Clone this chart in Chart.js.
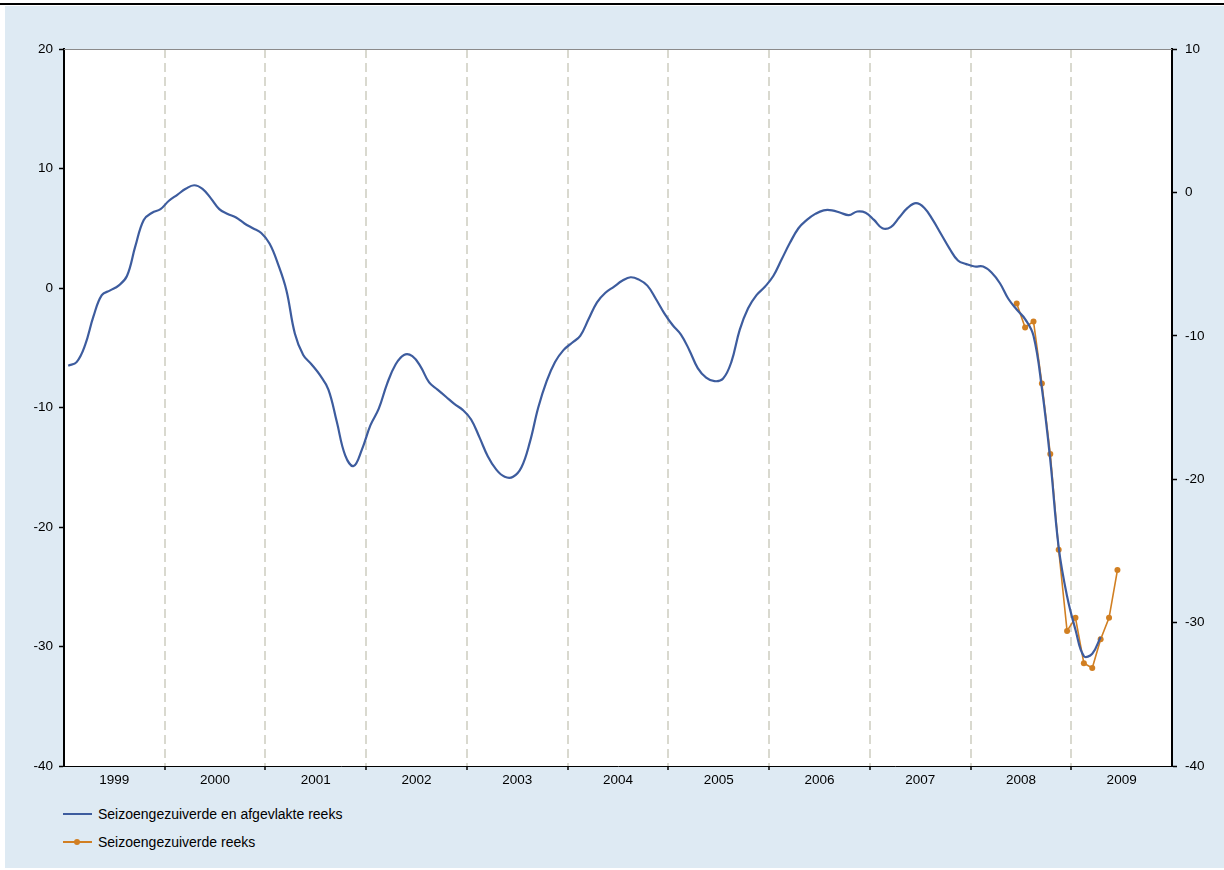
<!DOCTYPE html>
<html>
<head>
<meta charset="utf-8">
<script src="https://cdn.jsdelivr.net/npm/chart.js@4"></script>
<style>
  html, body { margin: 0; padding: 0; background: #ffffff; width: 1224px; height: 870px; overflow: hidden; }
  #topline { position: absolute; left: 0; top: 3px; width: 1224px; height: 2px; background: #000; }
  #bg { position: absolute; left: 5px; top: 6px; width: 1219px; height: 862px; background: #deeaf3; }
  #wrap { position: absolute; left: 0; top: 0; width: 1224px; height: 800px; }
  .leg { position: absolute; left: 63px; font-family: "Liberation Sans", Arial, sans-serif; font-size: 14px; color: #000; height: 16px; line-height: 16px; }
  .leg .mk { position: absolute; left: 0; top: 7px; width: 29px; height: 2px; }
  .leg .dot { position: absolute; left: 11px; top: -2px; width: 6px; height: 6px; border-radius: 50%; }
  .leg .tx { position: absolute; left: 35px; top: 0; white-space: nowrap; }
</style>
</head>
<body>
<div id="topline"></div>
<div id="bg"></div>
<div id="wrap"><canvas id="c" width="1224" height="800"></canvas></div>
<div class="leg" style="top:806px;"><span class="mk" style="background:#3d5c9e;"></span><span class="tx">Seizoengezuiverde en afgevlakte reeks</span></div>
<div class="leg" style="top:834px;"><span class="mk" style="background:#d17f22;"><span class="dot" style="background:#d17f22;"></span></span><span class="tx">Seizoengezuiverde reeks</span></div>
<script>
// Year labels (one per year, Jan 1999 .. Dec 2009)
const YEARS = ['1999','2000','2001','2002','2003','2004','2005','2006','2007','2008','2009'];

// Series names
const SERIES_SMOOTH = 'Seizoengezuiverde en afgevlakte reeks';
const SERIES_SA = 'Seizoengezuiverde reeks';

// Seasonally adjusted & smoothed series: monthly, starting Jan 1999 (month index 0)
const SMOOTH_START = 0;
const smoothValues = [
  -6.5,-6.2,-4.8,-2.4,-0.6,-0.2,0.2,1.0,3.5,5.7,6.3,6.6,
  7.3,7.8,8.3,8.6,8.3,7.5,6.6,6.2,5.9,5.4,5.0,4.6,
  3.7,2.0,-0.2,-3.8,-5.6,-6.4,-7.3,-8.5,-11.2,-14.0,-14.9,-13.5,
  -11.5,-10.1,-8.0,-6.4,-5.6,-5.7,-6.6,-7.9,-8.5,-9.1,-9.7,-10.2,
  -11.0,-12.5,-14.1,-15.2,-15.8,-15.8,-15.0,-12.9,-10.0,-7.8,-6.2,-5.2,
  -4.6,-4.0,-2.6,-1.2,-0.4,0.1,0.6,0.9,0.7,0.2,-0.9,-2.1,
  -3.1,-3.9,-5.2,-6.7,-7.5,-7.8,-7.6,-6.2,-3.5,-1.7,-0.6,0.1,
  1.0,2.4,3.8,5.0,5.7,6.2,6.5,6.5,6.3,6.1,6.4,6.3,
  5.7,5.0,5.1,5.9,6.7,7.1,6.7,5.7,4.5,3.3,2.3,2.0,
  1.8,1.8,1.3,0.4,-0.9,-1.8,-2.6,-4.0,-8.4,-14.4,-21.7,-25.8,
  -28.6,-30.8,-30.6,-29.2
];

// Seasonally adjusted series: monthly, starting June 2008 (month index 113)
const SA_START = 113;
const saValues = [-1.3,-3.3,-2.8,-8.0,-13.9,-21.9,-28.7,-27.6,-31.4,-31.8,-29.4,-27.6,-23.6];

// Axis tick values
const LEFT_TICKS = [-40,-30,-20,-10,0,10,20];
const RIGHT_TICKS = [-40,-30,-20,-10,0,10];

const MONTHS_TOTAL = YEARS.length * 12;
const toPoints = (start, arr) => arr.map((v, k) => ({ x: start + k + 0.5, y: v }));

const FONT = { family: '"Liberation Sans", Arial, sans-serif', size: 13.5 };

const areaPlugin = {
  id: 'area',
  beforeDraw(chart) {
    const { ctx, chartArea: a } = chart;
    ctx.save();
    ctx.fillStyle = '#ffffff';
    ctx.fillRect(a.left, a.top, a.right - a.left, a.bottom - a.top);
    ctx.restore();
  },
  afterDraw(chart) {
    const { ctx, chartArea: a } = chart;
    ctx.save();
    ctx.strokeStyle = '#8a8a8a';
    ctx.lineWidth = 1;
    ctx.beginPath();
    ctx.moveTo(a.left, a.top + 0.5);
    ctx.lineTo(a.right, a.top + 0.5);
    ctx.stroke();
    ctx.restore();
  }
};

new Chart(document.getElementById('c'), {
  type: 'line',
  data: {
    datasets: [
      {
        label: SERIES_SMOOTH,
        data: toPoints(SMOOTH_START, smoothValues),
        borderColor: '#3d5c9e',
        borderWidth: 2.2,
        pointRadius: 0,
        tension: 0.4,
        fill: false,
        yAxisID: 'y'
      },
      {
        label: SERIES_SA,
        data: toPoints(SA_START, saValues),
        borderColor: '#d17f22',
        backgroundColor: '#d17f22',
        borderWidth: 1.6,
        pointRadius: 3,
        pointBorderWidth: 0,
        pointBackgroundColor: '#d17f22',
        tension: 0,
        fill: false,
        yAxisID: 'y'
      }
    ]
  },
  options: {
    responsive: false,
    animation: false,
    layout: { padding: { top: 49, left: 0, right: 0, bottom: 0 } },
    plugins: { legend: { display: false }, tooltip: { enabled: false } },
    scales: {
      x: {
        type: 'linear',
        min: 0,
        max: MONTHS_TOTAL,
        afterBuildTicks(scale) {
          scale.ticks = YEARS.concat(['']).map((_, i) => ({ value: i * 12 }));
        },
        afterFit(scale) { scale.height = 34; },
        ticks: {
          autoSkip: false,
          maxRotation: 0,
          minRotation: 0,
          padding: 2,
          color: '#000',
          font: FONT,
          labelOffset: 1108 / YEARS.length / 2,
          callback: (v, i) => YEARS[i] || ''
        },
        grid: {
          display: true,
          drawOnChartArea: true,
          drawTicks: true,
          tickLength: 4,
          lineWidth: 2,
          color: (c) => (c.index === 0 || c.index === YEARS.length) ? 'rgba(0,0,0,0)' : '#d9d9cf',
          tickColor: (c) => (c.index === 0 || c.index === YEARS.length) ? 'rgba(0,0,0,0)' : '#000',
          tickWidth: 1.5,
          tickBorderDash: []
        },
        border: { display: true, color: '#000', width: 1, dash: [9, 5] }
      },
      y: {
        type: 'linear',
        position: 'left',
        min: -40,
        max: 20,
        afterBuildTicks(scale) { scale.ticks = LEFT_TICKS.map(v => ({ value: v })); },
        afterFit(scale) { scale.width = 64; },
        ticks: { color: '#000', font: FONT, padding: 6 },
        grid: { drawOnChartArea: false, drawTicks: true, tickLength: 5, color: '#000', tickWidth: 1.5 },
        border: { display: true, color: '#000', width: 2 }
      },
      y2: {
        type: 'linear',
        position: 'right',
        min: -40,
        max: 10,
        afterBuildTicks(scale) { scale.ticks = RIGHT_TICKS.map(v => ({ value: v })); },
        afterFit(scale) { scale.width = 52; },
        ticks: { color: '#000', font: FONT, padding: 8 },
        grid: { drawOnChartArea: false, drawTicks: true, tickLength: 5, color: '#000', tickWidth: 1.5 },
        border: { display: true, color: '#000', width: 2 }
      }
    }
  },
  plugins: [areaPlugin]
});
</script>
</body>
</html>
